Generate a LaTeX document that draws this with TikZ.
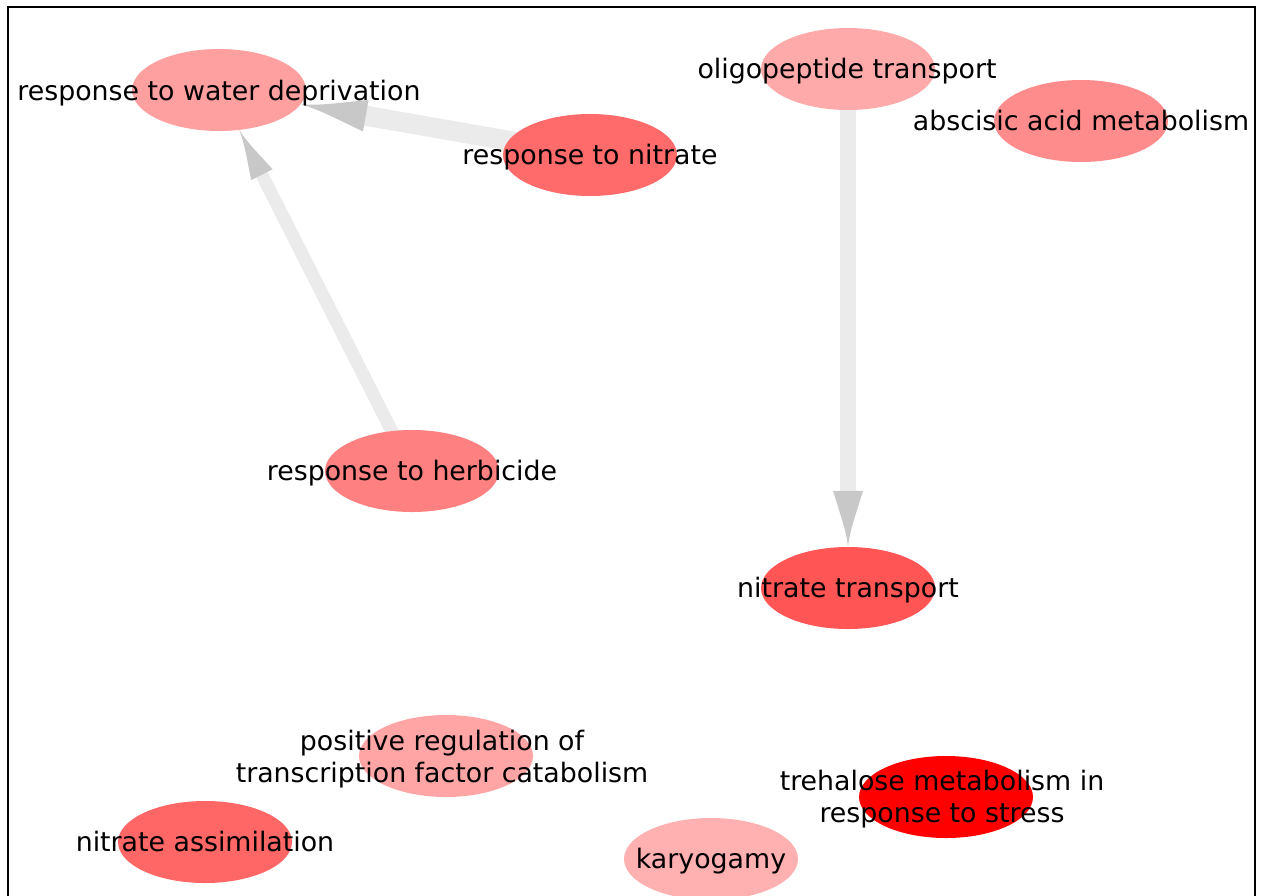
\documentclass[tikz,border=0pt]{standalone}
\usepackage{fontspec}
\setmainfont{DejaVu Sans}
\usetikzlibrary{shapes.geometric,decorations.markings,backgrounds}
\definecolor{edgegray}{HTML}{EBEBEB}
\definecolor{headgray}{HTML}{C8C8C8}
\definecolor{cwater}{HTML}{FFA0A0}
\definecolor{cnitrate}{HTML}{FF6A6A}
\definecolor{coligo}{HTML}{FFAAAA}
\definecolor{cabscisic}{HTML}{FF8C8C}
\definecolor{cherb}{HTML}{FF8080}
\definecolor{ctransport}{HTML}{FF5555}
\definecolor{cposreg}{HTML}{FFA5A5}
\definecolor{cassim}{HTML}{FF6666}
\definecolor{ckaryo}{HTML}{FFB0B0}
\definecolor{ctreh}{HTML}{FF0000}
\newcommand{\myhead}[2]{\fill[headgray] (-#1,#2) .. controls (-0.6*#1,0.55*#2) and (-0.3*#1,0.12*#2) .. (0,0) .. controls (-0.3*#1,-0.12*#2) and (-0.6*#1,-0.55*#2) .. (-#1,-#2) -- cycle;}
\tikzset{
  ell/.style={ellipse, minimum width=174pt, minimum height=82pt, inner sep=0pt, draw=none},
  lbl/.style={font=\fontsize{26.8}{32}\selectfont, text=black, inner sep=0pt, anchor=base, align=center},
  edgeline/.style={draw=edgegray, line width=#1},
  frame/.style={draw=black, line width=2pt}
}
\begin{document}
\begin{tikzpicture}[x=1pt,y=-1pt]
\useasboundingbox (0,0) rectangle (1263,895);
\clip (0,0) rectangle (1263,895);
\draw[frame] (8,6.5) rectangle (1255,905);
% nodes
\node[ell, fill=cwater] (w) at (219,90) {};
\node[ell, fill=cnitrate] (n) at (590,155) {};
\node[ell, fill=coligo] (o) at (848,69) {};
\node[ell, fill=cabscisic] (a) at (1081,121) {};
\node[ell, fill=cherb] (h) at (412,471) {};
\node[ell, fill=ctransport] (t) at (848,588) {};
\node[ell, fill=cposreg] (p) at (446,756) {};
\node[ell, fill=cassim] (s) at (205,842) {};
\node[ell, fill=ckaryo] (k) at (711,859) {};
\node[ell, fill=ctreh] (r) at (946,797) {};
% labels
\node[lbl] (wl) at ([yshift=-10pt]w.center) {response to water deprivation};
\node[lbl] (nl) at ([yshift=-9pt]n.center) {response to nitrate};
\node[lbl] (ol) at ([xshift=-1pt,yshift=-9pt]o.center) {oligopeptide transport};
\node[lbl] (al) at ([yshift=-9pt]a.center) {abscisic acid metabolism};
\node[lbl] (hl) at ([yshift=-9pt]h.center) {response to herbicide};
\node[lbl] (tl) at ([yshift=-9pt]t.center) {nitrate transport};
\node[lbl] (pl) at ([xshift=-4pt,yshift=-26pt]p.center) {positive regulation of\\transcription factor catabolism};
\node[lbl] (sl) at ([yshift=-9pt]s.center) {nitrate assimilation};
\node[lbl] (kl) at ([yshift=-9pt]k.center) {karyogamy};
\node[lbl] (rl) at ([xshift=-4pt,yshift=-25pt]r.center) {trehalose metabolism in\\response to stress};
% edges
\begin{scope}[on background layer]
\draw[edgeline=20pt, shorten >=62pt] (n.center) -- (w);
\path[decoration={markings, mark=at position 1 with {\myhead{66}{16}}}, decorate] (n.center) -- (w);
\draw[edgeline=13pt, shorten >=46pt] (h.center) -- (w);
\path[decoration={markings, mark=at position 1 with {\myhead{50}{12}}}, decorate] (h.center) -- (w);
\draw[edgeline=16pt, shorten >=52pt] (o.center) -- (t);
\path[decoration={markings, mark=at position 1 with {\myhead{56}{15}}}, decorate] (o.center) -- (t);
\end{scope}
\end{tikzpicture}
\end{document}
